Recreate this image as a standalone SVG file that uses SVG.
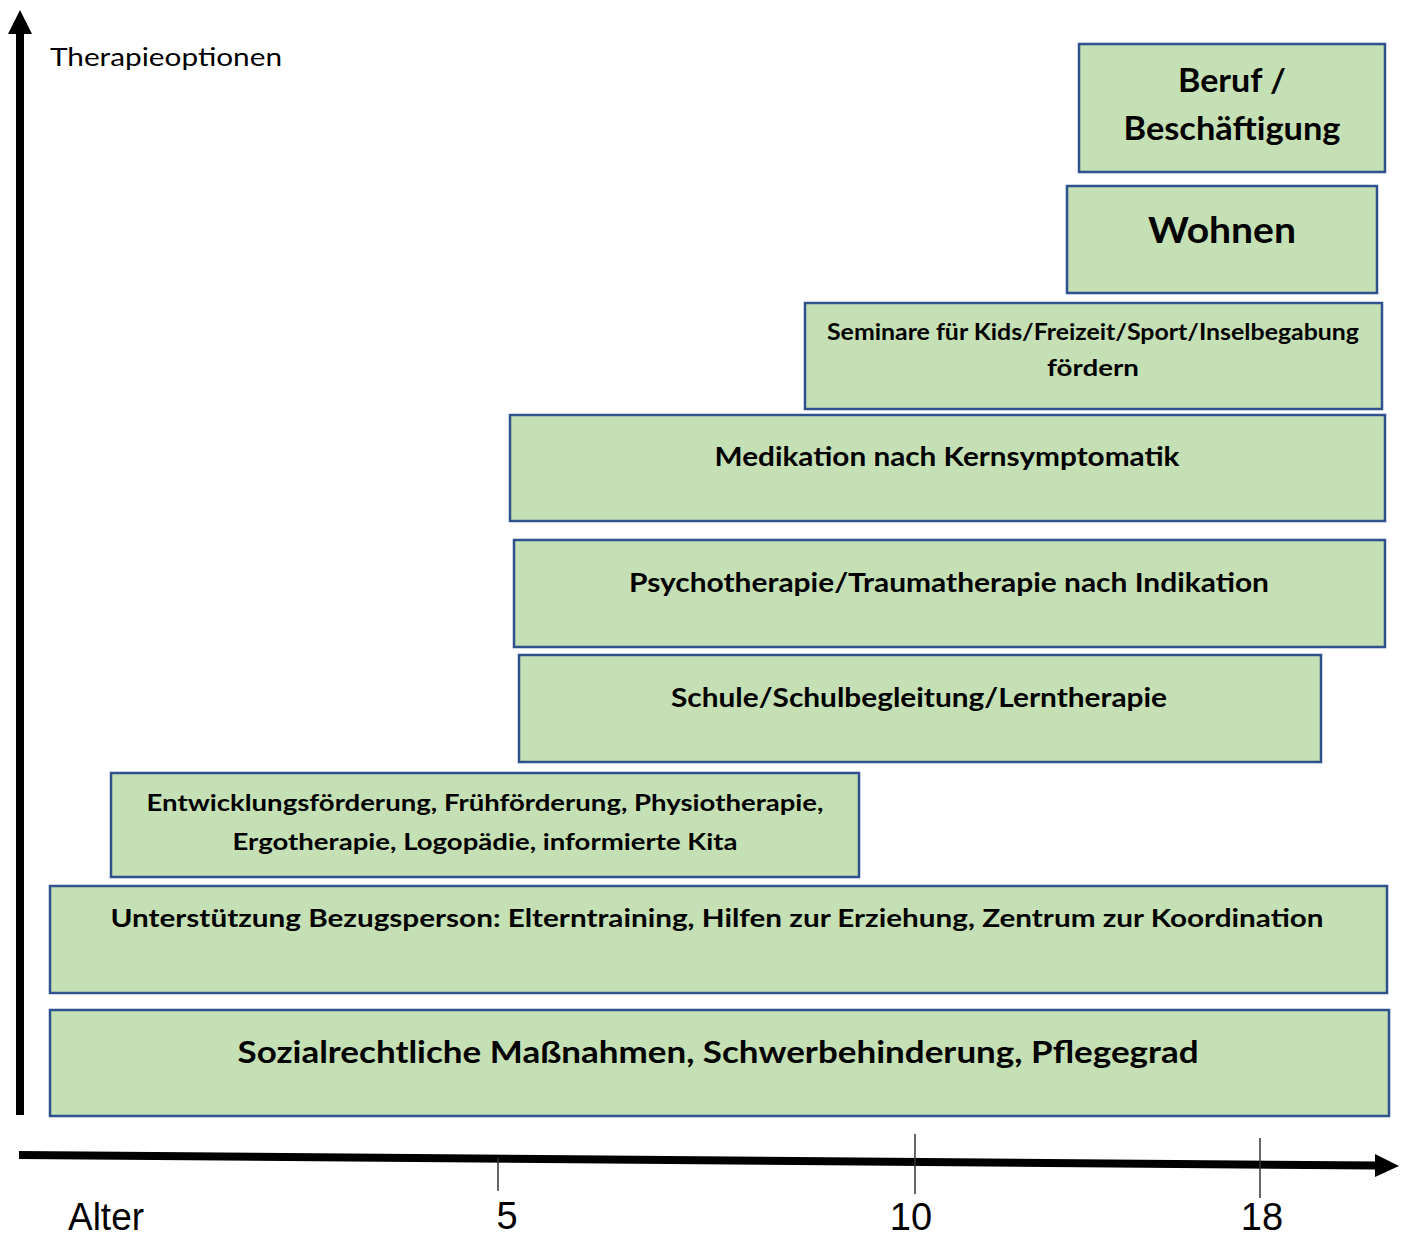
<svg xmlns="http://www.w3.org/2000/svg" width="1408" height="1238" viewBox="0 0 1408 1238">
<style>
.box{fill:#C5E0B4;stroke:#2F528F;stroke-width:2.5}
.t{font-family:Lato,"Open Sans","Liberation Sans",sans-serif;font-weight:700;fill:#000;text-anchor:middle}
.ax{font-family:"Liberation Sans",Arial,sans-serif;fill:#000;text-anchor:middle;font-size:38px}
</style>
<rect width="1408" height="1238" fill="#fff"/>
<g id="connectors">
<line x1="20" y1="1115" x2="20" y2="32" stroke="#000" stroke-width="8"/>
<polygon points="20,10 8,34 32,34" fill="#000"/>
<line x1="19" y1="1155" x2="1377" y2="1165.5" stroke="#000" stroke-width="8"/>
<polygon points="1399,1166 1375,1154 1375,1177" fill="#000"/>
<line x1="498" y1="1158" x2="498" y2="1191" stroke="#333" stroke-width="1.5"/>
<line x1="915" y1="1134" x2="915" y2="1194" stroke="#333" stroke-width="1.5"/>
<line x1="1260" y1="1138" x2="1260" y2="1198" stroke="#333" stroke-width="1.5"/>
</g>
<g id="axis-labels">
<text x="50" y="66" font-family="Lato,'Open Sans',sans-serif" font-size="25" textLength="232" lengthAdjust="spacingAndGlyphs">Therapieoptionen</text>
<text class="ax" x="106" y="1230" textLength="76" lengthAdjust="spacingAndGlyphs">Alter</text>
<text class="ax" x="507" y="1229">5</text>
<text class="ax" x="911" y="1230">10</text>
<text class="ax" x="1262" y="1230">18</text>
</g>
<g id="beruf">
<rect class="box" x="1079" y="44" width="306" height="128"/>
<text class="t" x="1232" y="92" font-size="32" textLength="108" lengthAdjust="spacingAndGlyphs">Beruf /</text>
<text class="t" x="1232" y="140" font-size="32" textLength="217" lengthAdjust="spacingAndGlyphs">Beschäftigung</text>
</g>
<g id="wohnen">
<rect class="box" x="1067" y="186" width="310" height="107"/>
<text class="t" x="1222" y="243" font-size="36" textLength="148" lengthAdjust="spacingAndGlyphs">Wohnen</text>
</g>
<g id="seminare">
<rect class="box" x="805" y="303" width="577" height="106"/>
<text class="t" x="1093" y="340" font-size="22" textLength="532" lengthAdjust="spacingAndGlyphs">Seminare für Kids/Freizeit/Sport/Inselbegabung</text>
<text class="t" x="1093" y="376" font-size="22" textLength="92" lengthAdjust="spacingAndGlyphs">fördern</text>
</g>
<g id="medikation">
<rect class="box" x="510" y="415" width="875" height="106"/>
<text class="t" x="947" y="466" font-size="26" textLength="465" lengthAdjust="spacingAndGlyphs">Medikation nach Kernsymptomatik</text>
</g>
<g id="psychotherapie">
<rect class="box" x="514" y="540" width="871" height="107"/>
<text class="t" x="949" y="592" font-size="26" textLength="640" lengthAdjust="spacingAndGlyphs">Psychotherapie/Traumatherapie nach Indikation</text>
</g>
<g id="schule">
<rect class="box" x="519" y="655" width="802" height="107"/>
<text class="t" x="919" y="707" font-size="26" textLength="496" lengthAdjust="spacingAndGlyphs">Schule/Schulbegleitung/Lerntherapie</text>
</g>
<g id="entwicklung">
<rect class="box" x="111" y="773" width="748" height="104"/>
<text class="t" x="485" y="811" font-size="23" textLength="677" lengthAdjust="spacingAndGlyphs">Entwicklungsförderung, Frühförderung, Physiotherapie,</text>
<text class="t" x="485" y="850" font-size="23" textLength="505" lengthAdjust="spacingAndGlyphs">Ergotherapie, Logopädie, informierte Kita</text>
</g>
<g id="unterstuetzung">
<rect class="box" x="50" y="886" width="1337" height="107"/>
<text class="t" x="717" y="927" font-size="24" textLength="1213" lengthAdjust="spacingAndGlyphs">Unterstützung Bezugsperson: Elterntraining, Hilfen zur Erziehung, Zentrum zur Koordination</text>
</g>
<g id="sozialrecht">
<rect class="box" x="50" y="1010" width="1339" height="106"/>
<text class="t" x="718" y="1063" font-size="30" textLength="961" lengthAdjust="spacingAndGlyphs">Sozialrechtliche Maßnahmen, Schwerbehinderung, Pflegegrad</text>
</g>
</svg>
